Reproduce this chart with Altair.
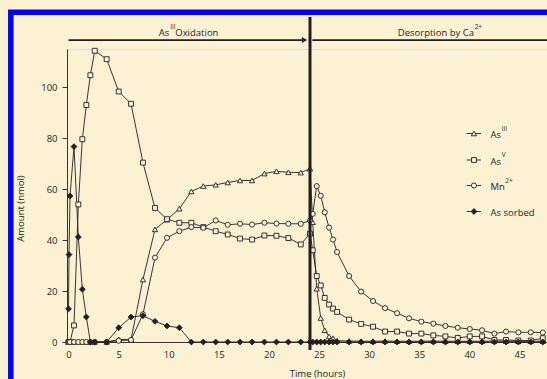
import altair as alt
import pandas as pd

BG = "#FDF1D4"
INK = "#231F20"
FRAME = "#0000FF"
FONT = "Open Sans"

# ---- data ----
TIME = [0, 0.05, 0.15, 0.55, 0.98, 1.38, 1.78, 2.18, 2.62, 3.81, 5.01, 6.24, 7.43, 8.63,
        9.83, 11.06, 12.26, 13.45, 14.69, 15.89, 17.12, 18.32, 19.55, 20.75, 21.94, 23.18, 24.1,
        24.37, 24.77, 25.17, 25.57, 26.0, 26.4, 26.8, 28.0, 29.2, 30.39, 31.59, 32.79, 33.98,
        35.21, 36.41, 37.61, 38.84, 40.04, 41.27, 42.5, 43.66, 44.89, 46.13, 47.33]

AS_III = [0, 0, 0, 0, 0, 0, 0, 0, 0, 0, 1.0, 1.0, 24.5, 44.2, 48.0, 52.3, 59.1, 61.2, 61.7,
          62.6, 63.4, 63.4, 66.1, 67.0, 66.6, 66.5, 68.0,
          47.0, 20.9, 9.4, 4.6, 2.2, 1.5, 0.5, 0.4, 0.3, 0.3, 0.4, 0.3, 0.3, 0.3, 0.4, 0.3,
          0.3, 0.3, 0.3, 0.4, 0.3, 0.3, 0.3, 0.3]

AS_V = [0, 0, 0, 6.5, 54.0, 79.6, 93.0, 104.7, 114.3, 111.0, 98.3, 93.5, 70.4, 52.6, 48.2,
        46.8, 46.8, 45.1, 43.5, 42.2, 40.6, 40.2, 41.8, 41.7, 40.8, 38.3, 42.5,
        36.0, 25.9, 22.2, 17.3, 14.7, 13.1, 11.8, 8.8, 7.1, 6.0, 4.1, 4.1, 3.3, 3.3, 2.6,
        2.2, 1.6, 2.2, 2.2, 0.8, 0.8, 0.6, 0.6, 1.5]

MN = [0, 0, 0, 0, 0, 0, 0, 0, 0, 0, 0.5, 0.8, 10.9, 33.1, 40.9, 43.5, 45.1, 44.8, 47.7,
      46.0, 46.4, 46.1, 46.8, 46.5, 46.4, 46.4, 47.7,
      50.3, 61.2, 57.4, 50.9, 44.9, 40.2, 35.3, 25.9, 19.8, 16.1, 13.3, 11.3, 9.3, 8.0,
      7.2, 6.3, 5.6, 5.1, 4.6, 3.3, 4.1, 3.8, 3.8, 3.7]

AS_SORBED = [13.0, 34.3, 57.3, 76.7, 41.2, 20.7, 9.8, 0, 0, 0, 5.6, 9.8, 10.3, 8.1, 6.3,
             5.6, 0, 0, 0, 0, 0, 0, 0, 0, 0, 0, 0,
             0, 0, 0, 0, 0, 0, 0, 0, 0, 0, 0, 0, 0, 0, 0, 0, 0, 0, 0, 0, 0, 0, 0, 0]

SERIES = ["AsIII", "AsV", "Mn2+", "As sorbed"]
LEG_BASE = ["As", "As", "Mn", "As sorbed"]
LEG_SUP = ["III", "V", "2+", ""]
SHAPES = ["triangle-up", "square", "circle", "diamond"]
FILLS = [BG, BG, BG, INK]
SIZES = [28, 24, 26, 34]

X_TICKS = [0, 5, 10, 15, 20, 25, 30, 35, 40, 45]
Y_TICKS = [0, 20, 40, 60, 80, 100]
X_DOMAIN = [-0.15, 47.75]
Y_DOMAIN = [0, 115]
SWITCH_TIME = 24.1

rows = []
for name, vals in zip(SERIES, [AS_III, AS_V, MN, AS_SORBED]):
    for t, v in zip(TIME, vals):
        rows.append({"time": t, "amount": v, "series": name})
df = pd.DataFrame(rows)

# ---- layout (pixels) ----
PAD_L, PAD_T, PAD_R, PAD_B = 67, 49, 0, 37
W, H = 480, 293
FS = 9.5
SUP_FS = 6.5

xs = alt.Scale(domain=X_DOMAIN, nice=False, zero=False)
ys = alt.Scale(domain=Y_DOMAIN, nice=False, zero=False)

X_AX = alt.Axis(values=X_TICKS, title="Time (hours)", ticks=False, domain=True,
                domainColor=INK, domainWidth=0.9, labelPadding=7, labelFontSize=FS,
                labelColor=INK, labelFont=FONT, grid=False, titleFont=FONT,
                titleFontSize=FS, titleFontWeight="normal", titleColor=INK,
                titleX=250, titleY=31, titleAlign="center", titleBaseline="middle")
Y_AX = alt.Axis(values=Y_TICKS, title="Amount (nmol)", tickSize=5, tickColor=INK,
                tickWidth=0.9, domainColor=INK, domainWidth=0.9, labelPadding=5,
                labelFontSize=FS, labelColor=INK, labelFont=FONT, grid=False,
                titleFont=FONT, titleFontSize=FS, titleFontWeight="normal",
                titleColor=INK, titleAngle=270, titleX=-47, titleY=159,
                titleAlign="center", titleBaseline="middle")

def xenc(field):
    return alt.X(field, scale=xs, axis=X_AX)

def yenc(field):
    return alt.Y(field, scale=ys, axis=Y_AX)

layers = []
ONE = pd.DataFrame({"k": [0]})

# blue frame
layers.append(alt.Chart(ONE).mark_rect(filled=False, stroke=FRAME, strokeWidth=5.5).encode(
    x=alt.value(10.8 - PAD_L), x2=alt.value(W + 40), y=alt.value(12.3 - PAD_T),
    y2=alt.value(H + 60)))

# series lines
for name in SERIES:
    layers.append(alt.Chart(df).transform_filter(alt.datum.series == name)
                  .mark_line(color=INK, strokeWidth=0.9)
                  .encode(x=xenc("time:Q"), y=yenc("amount:Q")))
# series markers
for name, shp, fil, sz in zip(SERIES, SHAPES, FILLS, SIZES):
    layers.append(alt.Chart(df).transform_filter(alt.datum.series == name)
                  .mark_point(shape=shp, filled=True, fill=fil, stroke=INK,
                              strokeWidth=0.9, size=sz, opacity=1)
                  .encode(x=xenc("time:Q"), y=yenc("amount:Q")))

# header annotation
HEAD_V = 118.5
hdr = pd.DataFrame({"t0": [0.0, 24.33], "t1": [23.6, X_DOMAIN[1]], "v": [HEAD_V, HEAD_V]})
layers.append(alt.Chart(hdr).mark_rule(color=INK, strokeWidth=1.8).encode(
    x=xenc("t0:Q"), x2="t1:Q", y=yenc("v:Q")))
layers.append(alt.Chart(pd.DataFrame({"t": [23.55], "v": [HEAD_V]})).mark_point(
    shape="triangle-right", filled=True, color=INK, size=36, opacity=1).encode(
    x=xenc("t:Q"), y=yenc("v:Q")))
layers.append(alt.Chart(pd.DataFrame({"t": [SWITCH_TIME], "v0": [127.6], "v1": [-3.1]}))
              .mark_rule(color=INK, strokeWidth=3).encode(
    x=xenc("t:Q"), y=yenc("v0:Q"), y2="v1:Q"))

TXT_V = 120.1
def htext(t, txt, dx, dy, size, align):
    return alt.Chart(pd.DataFrame({"t": [t], "v": [TXT_V], "s": [txt]})).mark_text(
        font=FONT, fontSize=size, color=INK, align=align, baseline="alphabetic",
        dx=dx, dy=dy).encode(x=xenc("t:Q"), y=yenc("v:Q"), text="s:N")

layers.append(htext(12, "As", -19.4, 0, FS, "right"))
layers.append(htext(12, "III", -18.6, -7, SUP_FS, "left"))
layers.append(htext(12, "Oxidation", -13.5, 0, FS, "left"))
layers.append(htext(36, "Desorption by Ca", 44.8, 0, FS, "right"))
layers.append(htext(36, "2+", 45.4, -7, SUP_FS, "left"))

# legend
LEG_Y = [133.5, 160.0, 185.5, 211.5]
SUP_DX = [11.2, 11.2, 14.8, 0]
for base, sup, shp, fil, sz, yy, sdx in zip(LEG_BASE, LEG_SUP, SHAPES, FILLS, SIZES, LEG_Y, SUP_DX):
    yv = yy - PAD_T
    layers.append(alt.Chart(ONE).mark_rule(color=INK, strokeWidth=0.9).encode(
        x=alt.value(466.7 - PAD_L), x2=alt.value(481 - PAD_L), y=alt.value(yv)))
    layers.append(alt.Chart(ONE).mark_point(shape=shp, filled=True, fill=fil, stroke=INK,
                                            strokeWidth=0.9, size=sz, opacity=1).encode(
        x=alt.value(474 - PAD_L), y=alt.value(yv)))
    layers.append(alt.Chart(ONE).mark_text(font=FONT, fontSize=FS, color=INK, align="left",
                                           baseline="alphabetic").encode(
        x=alt.value(490.5 - PAD_L), y=alt.value(yv + 4.5), text=alt.value(base)))
    if sup:
        layers.append(alt.Chart(ONE).mark_text(font=FONT, fontSize=SUP_FS, color=INK,
                                               align="left", baseline="alphabetic").encode(
            x=alt.value(490.5 - PAD_L + sdx), y=alt.value(yv + 4.5 - 7.5), text=alt.value(sup)))

chart = alt.layer(*layers).properties(
    width=W, height=H,
    autosize=alt.AutoSizeParams(type="none"),
    padding={"left": PAD_L, "top": PAD_T, "right": PAD_R, "bottom": PAD_B},
    background=BG,
).configure_view(stroke=None).configure(font=FONT)

chart.save("out.html", embed_options={"renderer": "svg", "actions": False})
